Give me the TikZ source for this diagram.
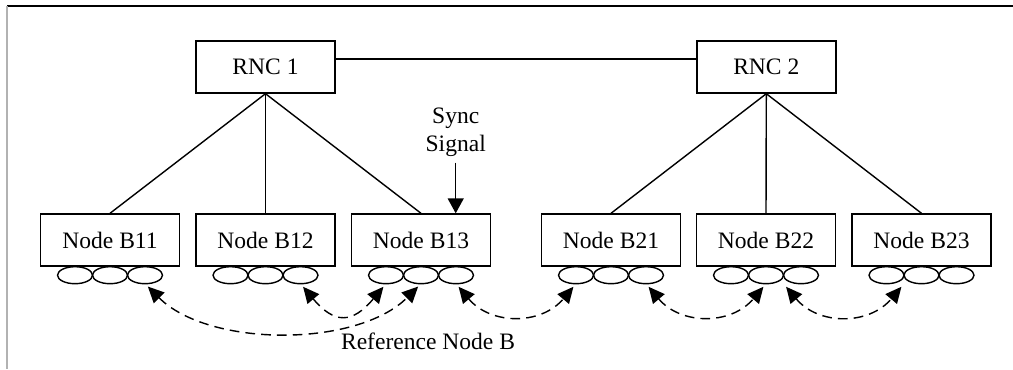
\documentclass[tikz,border=0pt]{standalone}
\usepackage{fontspec}
\setmainfont{Liberation Serif}
\usetikzlibrary{arrows.meta, positioning, shapes.geometric}

\tikzset{
  box/.style={draw, line width=0.8pt, minimum width=2.78cm, minimum height=1.04cm, inner sep=0pt},
  port/.style={draw, ellipse, line width=0.8pt, minimum width=0.7cm, minimum height=0.34cm, inner sep=0pt, outer sep=0pt},
  link/.style={line width=0.8pt, dash pattern=on 5.5pt off 3.5pt, shorten <=2.3pt, shorten >=2.3pt,
    {Triangle[length=0.32cm,width=0.3cm]}-{Triangle[length=0.32cm,width=0.3cm]}}
}

\begin{document}
\begin{tikzpicture}[x=0.02cm, y=-0.02cm, every node/.style={font=\fontsize{13.4}{15.9}\selectfont}]
      \useasboundingbox (0,0) rectangle (1013,369);
      \draw[line width=0.9pt] (7,6) -- (1013,6);
      \draw[gray!60, line width=0.6pt] (7,6) -- (7,369);

      \node[box] (rnc1) at (265.5,67) {RNC 1};
      \node[box] (rnc2) at (766.3,67) {RNC 2};

      \node[box] (b11) at (110,240) {Node B11};
      \node[box] (b12) at (265.5,240) {Node B12};
      \node[box] (b13) at (421,240) {Node B13};
      \node[box] (b21) at (611,240) {Node B21};
      \node[box] (b22) at (766,240) {Node B22};
      \node[box] (b23) at (921.5,240) {Node B23};

      % antennas under each Node B
      \foreach \b in {b11,b12,b13,b21,b22,b23} {
        \node[port, below=0pt of \b] (\b-2) {};
        \node[port, left=0pt of \b-2] (\b-1) {};
        \node[port, right=0pt of \b-2] (\b-3) {};
      }

      \draw[line width=0.8pt] ([yshift=0.16cm]rnc1.east) -- ([yshift=0.16cm]rnc2.west);
      \foreach \b in {b11,b12,b13} \draw[line width=0.8pt] (rnc1.south) -- (\b.north);
      \foreach \b in {b21,b22,b23} \draw[line width=0.8pt] (rnc2.south) -- (\b.north);

      \node[align=center] (sync) at (455.7,132) {Sync\\Signal};
      \draw[line width=0.8pt, -{Triangle[length=0.3cm,width=0.32cm]}] (sync.south) -- (sync.south |- b13.north);

      \draw[link] (b11-3.south) to[out=-45, in=-135, looseness=0.84] (b13-2.south);
      \draw[link] (b12-3.south) to[out=-50, in=-130, looseness=1.58] (b13-1.south);
      \draw[link] (b13-3.south) to[out=-50, in=-130, looseness=1.16] (b21-1.south);
      \draw[link] (b21-3.south) to[out=-50, in=-130, looseness=1.16] (b22-2.south);
      \draw[link] (b22-2.east |- b22-2.south) to[out=-50, in=-130, looseness=1.16] (b23-1.east |- b23-1.south);

      \node (refb) at (428,341) {Reference Node B};
    \end{tikzpicture}
\end{document}
